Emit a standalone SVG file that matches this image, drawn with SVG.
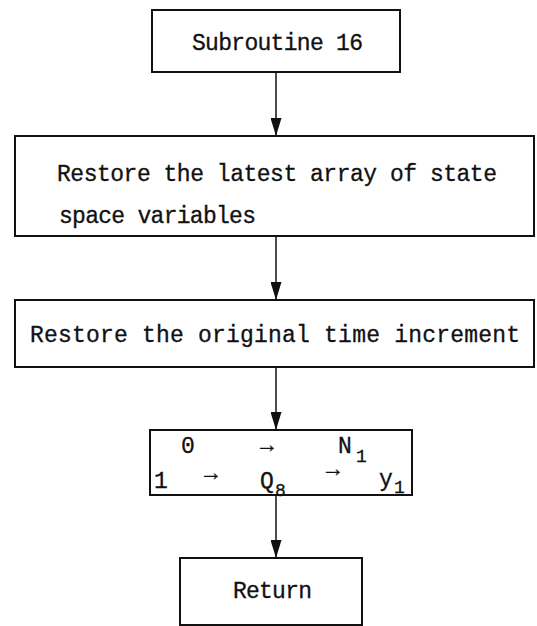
<svg xmlns="http://www.w3.org/2000/svg" width="537" height="626" viewBox="0 0 537 626">
<style>
.box{fill:#fff;stroke:#111;stroke-width:2}
.t{font-family:"Liberation Mono","Courier New",monospace;font-size:23px;fill:#111;stroke:#111;stroke-width:0.3}
.s{font-family:"Liberation Mono","Courier New",monospace;font-size:18px;fill:#111;stroke:#111;stroke-width:0.3}
.c{stroke:#111;stroke-width:1.5;fill:none}
</style>
<defs>
<marker id="ah" viewBox="0 0 18 11" refX="18" refY="5.5" markerWidth="18" markerHeight="11" markerUnits="userSpaceOnUse" orient="auto">
<path d="M0,0 L18,5.5 L0,11 Z" fill="#111"/>
</marker>
</defs>
<rect width="537" height="626" fill="#fff"/>
<g id="connectors">
<line class="c" x1="276" y1="72" x2="276" y2="136" marker-end="url(#ah)"/>
<line class="c" x1="276" y1="236" x2="276" y2="300" marker-end="url(#ah)"/>
<line class="c" x1="276" y1="367" x2="276" y2="430" marker-end="url(#ah)"/>
<line class="c" x1="276" y1="495" x2="276" y2="558" marker-end="url(#ah)"/>
</g>
<g id="n1">
<rect class="box" x="152" y="10" width="248" height="62"/>
<text class="t" x="192" y="50" textLength="171">Subroutine 16</text>
</g>
<g id="n2">
<rect class="box" x="15" y="136" width="519" height="100"/>
<text class="t" x="57" y="181" textLength="440">Restore the latest array of state</text>
<text class="t" x="59" y="223" textLength="197">space variables</text>
</g>
<g id="n3">
<rect class="box" x="15" y="300" width="519" height="67"/>
<text class="t" x="30" y="342" textLength="490">Restore the original time increment</text>
</g>
<g id="n4">
<rect class="box" x="150" y="430" width="262" height="65"/>
<text class="t" x="181" y="453">0</text>
<text class="t" x="260" y="452">→</text>
<text class="t" x="338" y="453">N</text>
<text class="s" x="356" y="462">1</text>
<text class="t" x="154" y="488">1</text>
<text class="t" x="204" y="480">→</text>
<text class="t" x="260" y="488">Q</text>
<text class="s" x="275" y="496">8</text>
<text class="t" x="326" y="476">→</text>
<text class="t" x="379" y="486">y</text>
<text class="s" x="394" y="493">1</text>
</g>
<g id="n5">
<rect class="box" x="180" y="558" width="182" height="67"/>
<text class="t" x="233" y="598" textLength="79">Return</text>
</g>
</svg>
